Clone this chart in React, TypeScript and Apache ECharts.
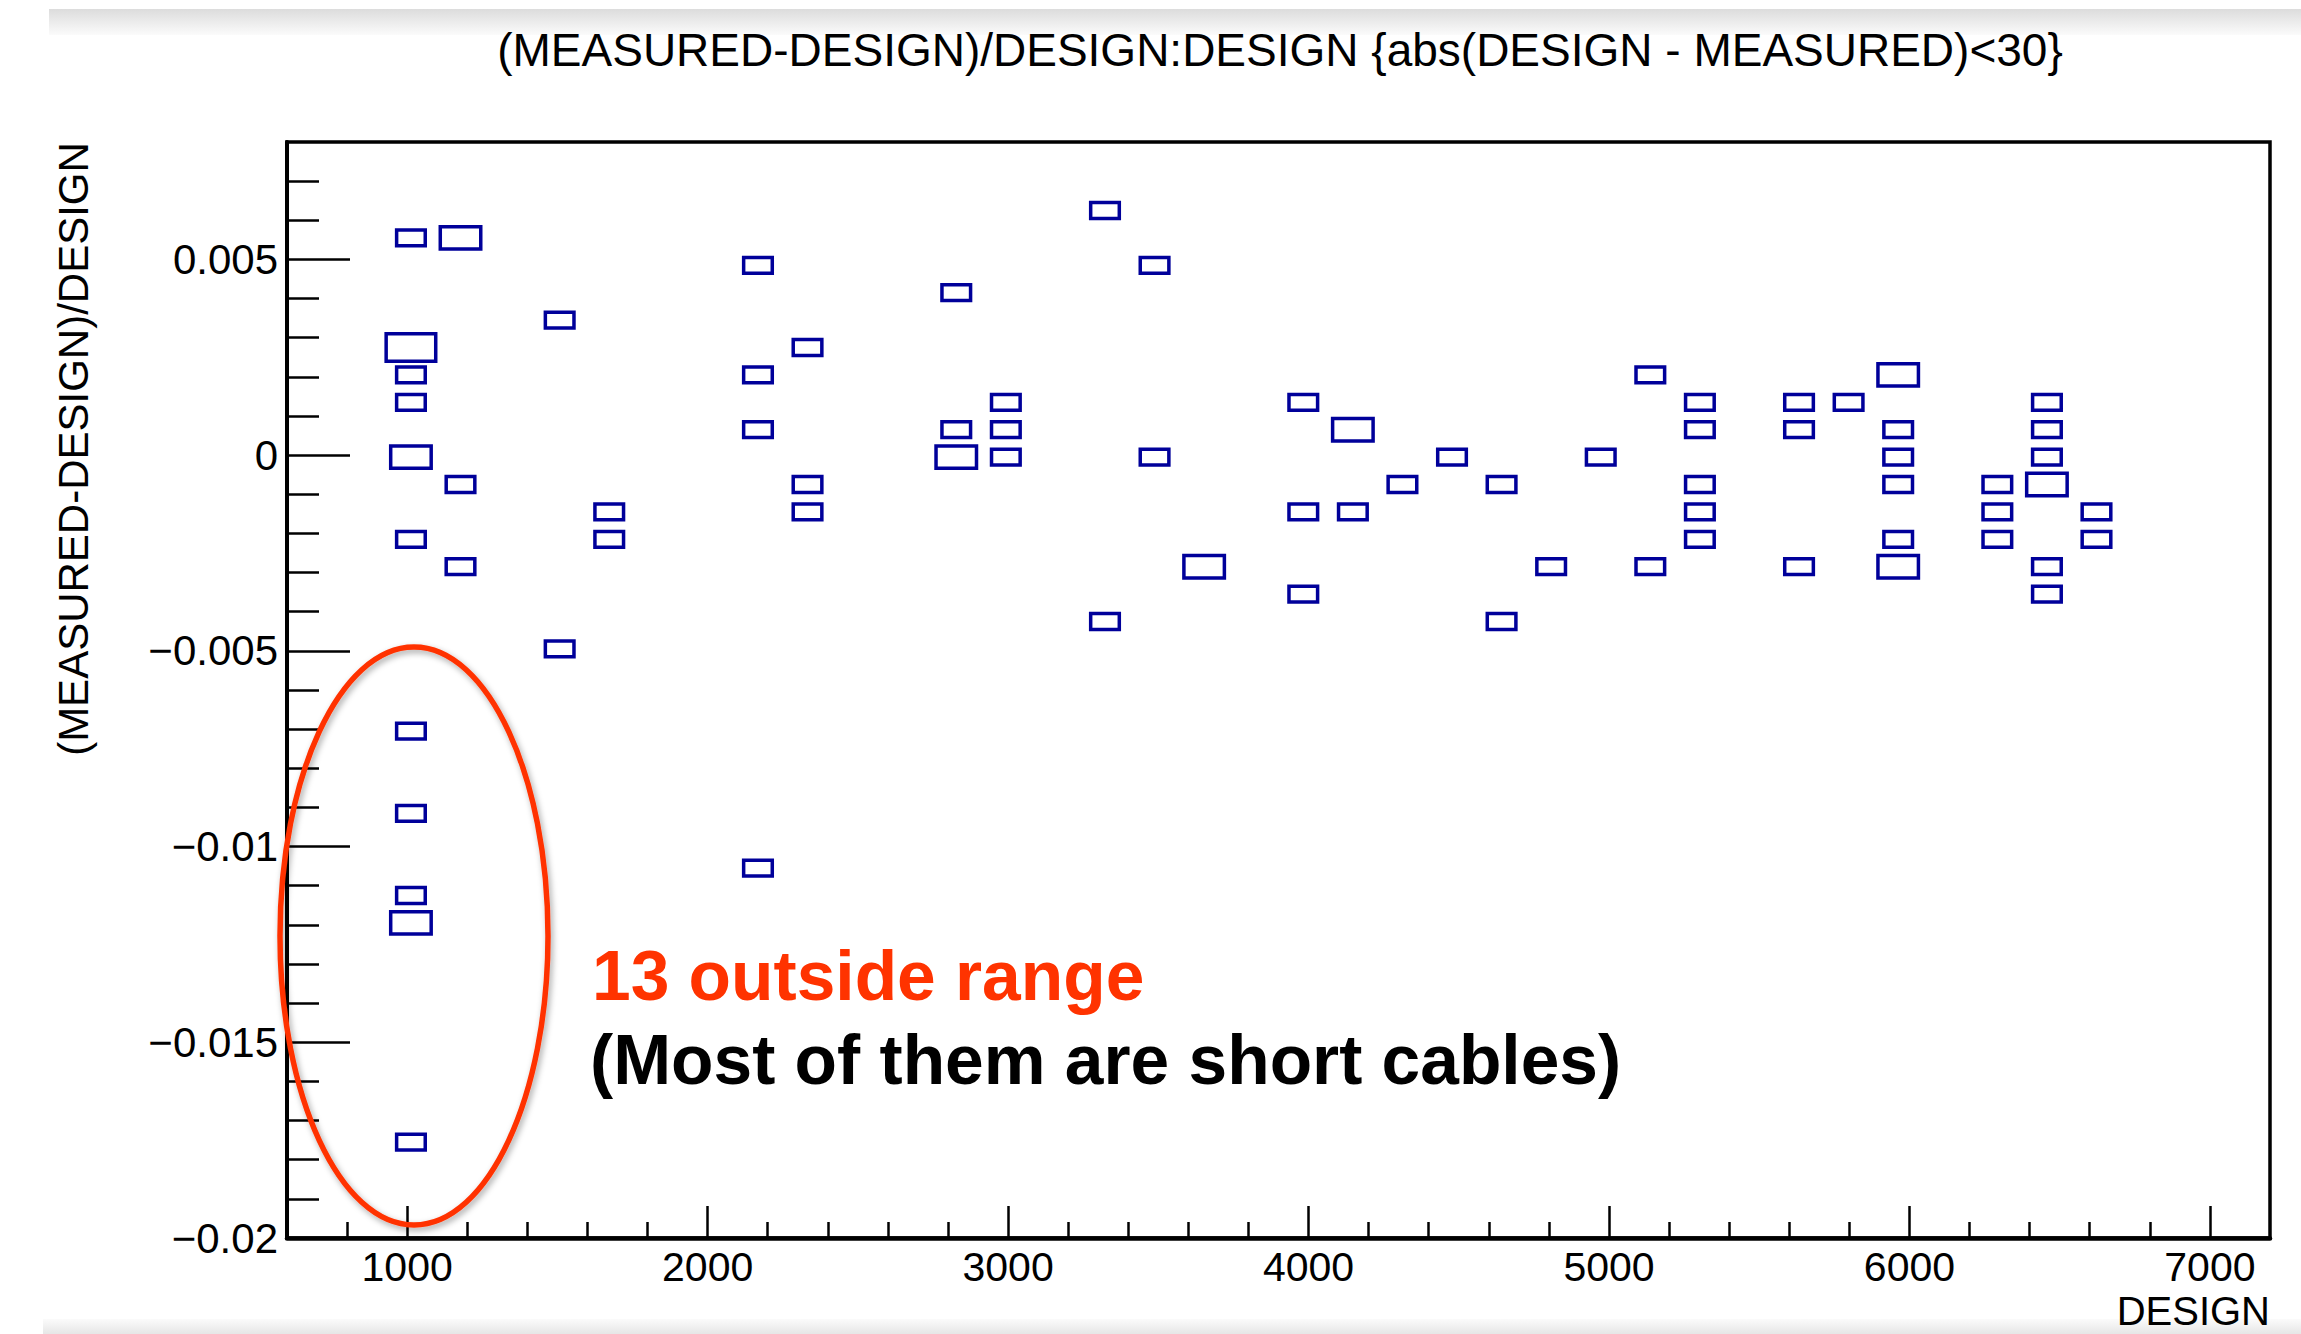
import React, { useEffect, useRef } from "react";
import * as echarts from "echarts";

// ---- axis ranges & binning (ROOT TH2 "box" drawing, 40x40 bins) ----
const X_MIN = 600;
const X_MAX = 7200;
const Y_MIN = -0.02;
const Y_MAX = 0.008;
const BIN_W = 165;
const BIN_H = 0.0007;
const MAX_COUNT = 3;

// ---- tick labels ----
const xMajorTicks = [1000, 2000, 3000, 4000, 5000, 6000, 7000];
const yMajorTicks = [-0.02, -0.015, -0.01, -0.005, 0, 0.005];
const X_MINOR_STEP = 200;
const Y_MINOR_STEP = 0.001;

// ---- data: bin centre (DESIGN), bin centre ((MEASURED-DESIGN)/DESIGN), entries ----
const design = [
  1012.5, 1012.5, 1012.5, 1012.5, 1012.5, 1012.5, 1012.5, 1012.5, 1012.5, 1012.5, 1012.5,
  1177.5, 1177.5, 1177.5,
  1507.5, 1507.5,
  1672.5, 1672.5,
  2167.5, 2167.5, 2167.5, 2167.5,
  2332.5, 2332.5, 2332.5,
  2827.5, 2827.5, 2827.5,
  2992.5, 2992.5, 2992.5,
  3322.5, 3322.5,
  3487.5, 3487.5,
  3652.5,
  3982.5, 3982.5, 3982.5,
  4147.5, 4147.5,
  4312.5,
  4477.5,
  4642.5, 4642.5,
  4807.5,
  4972.5,
  5137.5, 5137.5,
  5302.5, 5302.5, 5302.5, 5302.5, 5302.5,
  5632.5, 5632.5, 5632.5,
  5797.5,
  5962.5, 5962.5, 5962.5, 5962.5, 5962.5, 5962.5,
  6292.5, 6292.5, 6292.5,
  6457.5, 6457.5, 6457.5, 6457.5, 6457.5, 6457.5,
  6622.5, 6622.5,
];
const ratio = [
  0.00555, 0.00275, 0.00205, 0.00135, -0.00005, -0.00215, -0.00705, -0.00915, -0.01125, -0.01195, -0.01755,
  0.00555, -0.00075, -0.00285,
  0.00345, -0.00495,
  -0.00145, -0.00215,
  0.00485, 0.00205, 0.00065, -0.01055,
  0.00275, -0.00075, -0.00145,
  0.00415, 0.00065, -0.00005,
  0.00135, 0.00065, -0.00005,
  0.00625, -0.00425,
  0.00485, -0.00005,
  -0.00285,
  0.00135, -0.00145, -0.00355,
  0.00065, -0.00145,
  -0.00075,
  -0.00005,
  -0.00075, -0.00425,
  -0.00285,
  -0.00005,
  0.00205, -0.00285,
  0.00135, 0.00065, -0.00075, -0.00145, -0.00215,
  0.00135, 0.00065, -0.00285,
  0.00135,
  0.00205, 0.00065, -0.00005, -0.00075, -0.00215, -0.00285,
  -0.00075, -0.00145, -0.00215,
  0.00135, 0.00065, -0.00005, -0.00075, -0.00285, -0.00355,
  -0.00145, -0.00215,
];
const counts = [
  1, 3, 1, 1, 2, 1, 1, 1, 1, 2, 1,
  2, 1, 1,
  1, 1,
  1, 1,
  1, 1, 1, 1,
  1, 1, 1,
  1, 1, 2,
  1, 1, 1,
  1, 1,
  1, 1,
  2,
  1, 1, 1,
  2, 1,
  1,
  1,
  1, 1,
  1,
  1,
  1, 1,
  1, 1, 1, 1, 1,
  1, 1, 1,
  1,
  2, 1, 1, 1, 1, 2,
  1, 1, 1,
  1, 1, 1, 2, 1, 1,
  1, 1,
];

const TITLE = "(MEASURED-DESIGN)/DESIGN:DESIGN {abs(DESIGN - MEASURED)<30}";
const X_TITLE = "DESIGN";
const Y_TITLE = "(MEASURED-DESIGN)/DESIGN";
const NOTE_1 = "13 outside range";
const NOTE_2 = "(Most of them are short cables)";

const FONT = "'Liberation Sans', Arial, Helvetica, sans-serif";
const BOX_COLOR = "#00009a";
const RED = "#ff3300";

function minorTicks(min: number, max: number, step: number, majors: number[]) {
  const out: number[] = [];
  const n = Math.round((max - min) / step);
  for (let i = 0; i <= n; i++) {
    const v = +(min + i * step).toFixed(6);
    if (v <= min || v >= max) continue;
    if (majors.some((m) => Math.abs(m - v) < step / 10)) continue;
    out.push(v);
  }
  return out;
}

export default function App() {
  const ref = useRef<HTMLDivElement>(null);

  useEffect(() => {
    if (!ref.current) return;
    const chart = echarts.init(ref.current, undefined, { renderer: "svg" });

    const xMinor = minorTicks(X_MIN, X_MAX, X_MINOR_STEP, xMajorTicks);
    const yMinor = minorTicks(Y_MIN, Y_MAX, Y_MINOR_STEP, yMajorTicks);
    const data = design.map((d, i) => [d, ratio[i], counts[i]]);

    const fmtY = (v: number) => {
      const s = String(+v.toFixed(4));
      return s.replace("-", "\u2212");
    };

    const tickStyle = { color: "#000", width: 2.5 };

    const option: any = {
      animation: false,
      backgroundColor: "#ffffff",
      grid: {
        left: 287,
        top: 142,
        width: 1983,
        height: 1096,
        show: true,
        borderColor: "#000",
        borderWidth: 3.5,
        backgroundColor: "transparent",
      },
      xAxis: [
        {
          type: "value",
          min: X_MIN,
          max: X_MAX,
          position: "bottom",
          axisLine: { show: true, onZero: false, lineStyle: { color: "#000", width: 4.5 } },
          axisTick: {
            show: true,
            inside: true,
            length: 32,
            customValues: xMajorTicks,
            lineStyle: tickStyle,
          },
          axisLabel: {
            show: true,
            customValues: xMajorTicks,
            color: "#000",
            fontSize: 41,
            fontFamily: FONT,
            margin: 8,
            formatter: (v: number) => String(v),
          },
          splitLine: { show: false },
        },
        {
          type: "value",
          min: X_MIN,
          max: X_MAX,
          position: "bottom",
          axisLine: { show: false, onZero: false },
          axisTick: {
            show: true,
            inside: true,
            length: 16,
            customValues: xMinor,
            lineStyle: tickStyle,
          },
          axisLabel: { show: false },
          splitLine: { show: false },
        },
      ],
      yAxis: [
        {
          type: "value",
          min: Y_MIN,
          max: Y_MAX,
          position: "left",
          axisLine: { show: true, onZero: false, lineStyle: { color: "#000", width: 4 } },
          axisTick: {
            show: true,
            inside: true,
            length: 63,
            customValues: yMajorTicks,
            lineStyle: tickStyle,
          },
          axisLabel: {
            show: true,
            customValues: yMajorTicks,
            color: "#000",
            fontSize: 42,
            fontFamily: FONT,
            margin: 9,
            formatter: fmtY,
          },
          splitLine: { show: false },
        },
        {
          type: "value",
          min: Y_MIN,
          max: Y_MAX,
          position: "left",
          axisLine: { show: false, onZero: false },
          axisTick: {
            show: true,
            inside: true,
            length: 32,
            customValues: yMinor,
            lineStyle: tickStyle,
          },
          axisLabel: { show: false },
          splitLine: { show: false },
        },
      ],
      series: [
        {
          type: "custom",
          coordinateSystem: "cartesian2d",
          xAxisIndex: 0,
          yAxisIndex: 0,
          data,
          encode: { x: 0, y: 1 },
          renderItem: (params: any, api: any) => {
            const c = api.coord([api.value(0), api.value(1)]);
            const s = Math.sqrt(api.value(2) / MAX_COUNT);
            const sz = api.size([BIN_W * s, BIN_H * s]);
            return {
              type: "rect",
              shape: { x: c[0] - sz[0] / 2, y: c[1] - sz[1] / 2, width: sz[0], height: sz[1] },
              style: { fill: "none", stroke: BOX_COLOR, lineWidth: 3.5 },
            };
          },
        },
      ],
      graphic: [
        {
          type: "rect",
          z: -10,
          shape: { x: 49, y: 9, width: 2252, height: 26 },
          style: {
            fill: new echarts.graphic.LinearGradient(0, 0, 0, 1, [
              { offset: 0, color: "#dcdcdc" },
              { offset: 1, color: "#fbfbfb" },
            ]),
          },
          silent: true,
        },
        {
          type: "rect",
          z: -10,
          shape: { x: 43, y: 1319, width: 2258, height: 15 },
          style: {
            fill: new echarts.graphic.LinearGradient(0, 0, 0, 1, [
              { offset: 0, color: "#fbfbfb" },
              { offset: 1, color: "#e6e6e6" },
            ]),
          },
          silent: true,
        },
        {
          type: "text",
          x: 1280,
          y: 50,
          style: {
            text: TITLE,
            font: `46px ${FONT}`,
            fill: "#000",
            textAlign: "center",
            textVerticalAlign: "middle",
          },
        },
        {
          type: "text",
          x: 73,
          y: 449,
          rotation: Math.PI / 2,
          style: {
            text: Y_TITLE,
            font: `42px ${FONT}`,
            fill: "#000",
            textAlign: "center",
            textVerticalAlign: "middle",
          },
        },
        {
          type: "text",
          x: 2270,
          y: 1311,
          style: {
            text: X_TITLE,
            font: `40px ${FONT}`,
            fill: "#000",
            textAlign: "right",
            textVerticalAlign: "middle",
          },
        },
        {
          type: "ellipse",
          z: 100,
          shape: { cx: 414, cy: 936, rx: 134, ry: 289 },
          style: {
            fill: "none",
            stroke: RED,
            lineWidth: 5.5,
            shadowBlur: 6,
            shadowColor: "rgba(0,0,0,0.35)",
            shadowOffsetX: 2,
            shadowOffsetY: 3,
          },
        },
        {
          type: "text",
          z: 100,
          x: 592,
          y: 976,
          style: {
            text: NOTE_1,
            font: `bold 69.5px ${FONT}`,
            fill: RED,
            textAlign: "left",
            textVerticalAlign: "middle",
          },
        },
        {
          type: "text",
          z: 100,
          x: 590,
          y: 1060,
          style: {
            text: NOTE_2,
            font: `bold 69.5px ${FONT}`,
            fill: "#000",
            textAlign: "left",
            textVerticalAlign: "middle",
          },
        },
      ],
    };

    chart.setOption(option);
    return () => chart.dispose();
  }, []);

  return (
    <div
      ref={ref}
      style={{ position: "absolute", left: 0, top: 0, width: 2301, height: 1334, background: "#fff" }}
    />
  );
}
